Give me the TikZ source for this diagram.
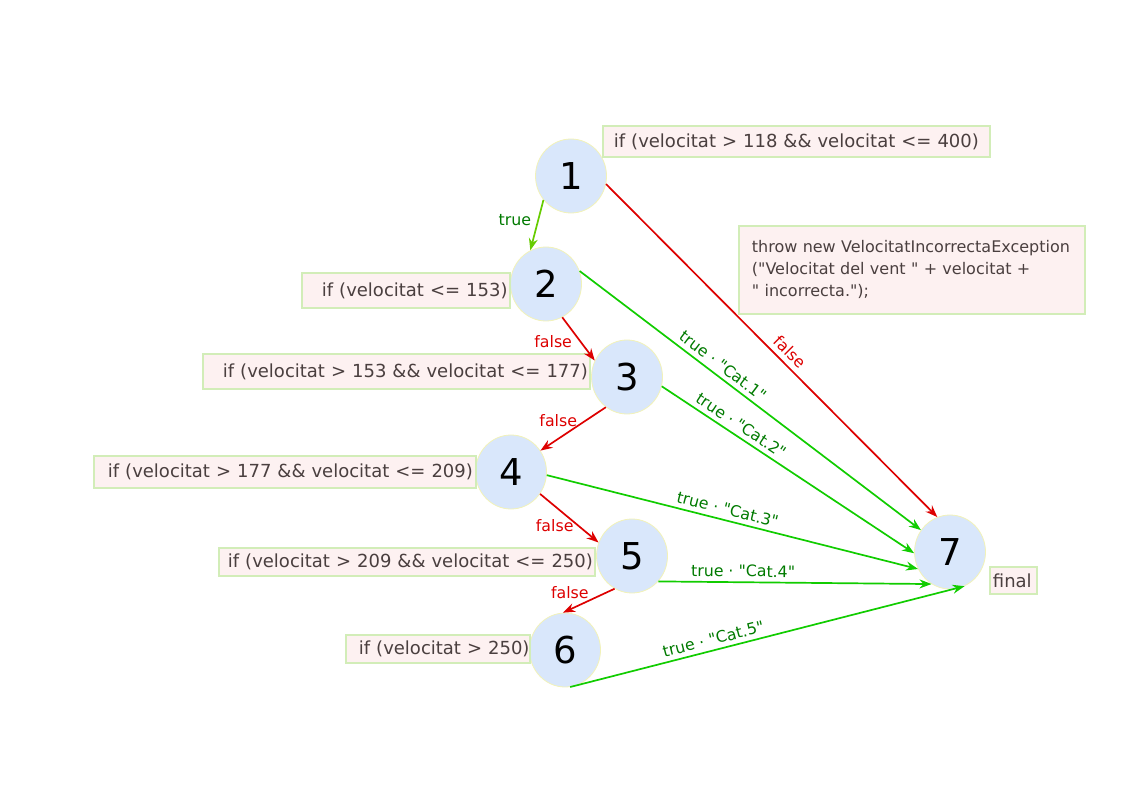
\documentclass[tikz,border=0pt]{standalone}
\usepackage{fontspec}
\setmainfont{DejaVu Sans}
\usetikzlibrary{arrows.meta,shapes.geometric}
\definecolor{nodefill}{HTML}{D9E7FB}
\definecolor{nodedraw}{HTML}{F2F2B8}
\definecolor{boxfill}{HTML}{FDF1F1}
\definecolor{boxdraw}{HTML}{D2EDB8}
\definecolor{txt}{HTML}{4A3F3F}
\definecolor{redE}{HTML}{DD0000}
\definecolor{greenE}{HTML}{11CC00}
\definecolor{limeE}{HTML}{66CC00}
\definecolor{truelab}{HTML}{007A00}
\newcommand{\qq}{\textquotedbl}
\begin{document}
\begin{tikzpicture}[x=1pt,y=-1pt,
  state/.style={ellipse, draw=nodedraw, line width=0.8pt, fill=nodefill,
    minimum width=71pt, minimum height=74pt, inner sep=0pt,
    font=\fontsize{37}{40}\selectfont},
  lbox/.style={draw=boxdraw, fill=boxfill, line width=1.8pt, inner xsep=0pt,
    inner ysep=0pt, text width=#1, align=left, text=txt,
    font=\fontsize{18}{22}\selectfont},
  edgeR/.style={draw=redE, line width=1.7pt, -{Stealth[length=12pt,width=9pt]}},
  edgeG/.style={draw=greenE, line width=1.7pt, -{Stealth[length=12pt,width=9pt]}},
  edgeL/.style={draw=limeE, line width=1.7pt, -{Stealth[length=12pt,width=9pt]}},
  tl/.style={text=truelab, font=\fontsize{15.8}{18}\selectfont},
  fl/.style={text=redE, font=\fontsize{15.8}{18}\selectfont}]
\useasboundingbox (0,0) rectangle (1123,794);

% state nodes
\node[state] (n1) at (571,176) {1};
\node[state] (n2) at (546,284) {2};
\node[state] (n3) at (627,377) {3};
\node[state] (n4) at (511,472) {4};
\node[state] (n5) at (632,556) {5};
\node[state] (n6) at (565,650) {6};
\node[state] (n7) at (950,552) {7};

% label boxes
\node[lbox=387pt, minimum height=31pt, anchor=west] (b1) at (602,141.5)
  {\hspace*{11pt}\mbox{if (velocitat > 118 \&\& velocitat <= 400)}};
\node[lbox=208pt, minimum height=35pt, anchor=west] (b2) at (301,290.5)
  {\hspace*{20pt}\mbox{if (velocitat <= 153)}};
\node[lbox=387pt, minimum height=35pt, anchor=west] (b3) at (202,371.5)
  {\hspace*{20pt}\mbox{if (velocitat > 153 \&\& velocitat <= 177)}};
\node[lbox=382pt, minimum height=32pt, anchor=west] (b4) at (93,472)
  {\hspace*{14pt}\mbox{if (velocitat > 177 \&\& velocitat <= 209)}};
\node[lbox=376pt, minimum height=28pt, anchor=west] (b5) at (218,562)
  {\hspace*{9pt}\mbox{if (velocitat > 209 \&\& velocitat <= 250)}};
\node[lbox=184pt, minimum height=28pt, anchor=west] (b6) at (345,649)
  {\hspace*{13pt}\mbox{if (velocitat > 250)}};
\node[lbox=47pt, minimum height=27pt, anchor=west] (bf) at (989,580.5)
  {\hspace*{3pt}\mbox{final}};
\node[lbox=346pt, minimum height=88pt, anchor=north west,
  font=\fontsize{16}{22}\selectfont] (thr) at (738,225)
  {\hspace*{13pt}\mbox{throw new VelocitatIncorrectaException}\\
   \hspace*{13pt}\mbox{(\qq Velocitat del vent \qq{} + velocitat +}\\
   \hspace*{13pt}\mbox{\qq{} incorrecta.\qq);}};

% edges
\draw[edgeL] (n1.221.6) -- node[tl, pos=0.4, left=3pt] {true} (n2.115);
\draw[edgeR] (n1.347) -- node[fl, sloped, above=2pt, pos=0.53] {false} (n7.110.6);
\draw[edgeR] (n2.296) -- node[fl, pos=0.55, left=4pt] {false} (n3.153);
\draw[edgeG] (n2.21.5) -- node[tl, sloped, above=1pt, pos=0.40] {true · \qq Cat.1\qq} (n7.143.5);
\draw[edgeR] (n3.235) -- node[fl, pos=0.3, left=5pt] {false} (n4.36.5);
\draw[edgeG] (n3.345) -- node[tl, sloped, above=1pt, pos=0.29] {true · \qq Cat.2\qq} (n7.182);
\draw[edgeR] (n4.323) -- node[fl, pos=0.66, left=1pt] {false} (n5.158);
\draw[edgeG] (n4.355) -- node[tl, sloped, above=1pt, pos=0.48] {true · \qq Cat.3\qq} (n7.208);
\draw[edgeR] (n5.242) -- node[fl, pos=0.5, anchor=east, xshift=4pt, yshift=8pt] {false} (n6.93);
\draw[edgeG] (n5.316) -- node[tl, sloped, above=1pt, pos=0.31] {true · \qq Cat.4\qq} (n7.240.6);
\draw[edgeG] (n6.278) -- node[tl, sloped, above=1pt, pos=0.37] {true · \qq Cat.5\qq} (n7.293);
\end{tikzpicture}
\end{document}
